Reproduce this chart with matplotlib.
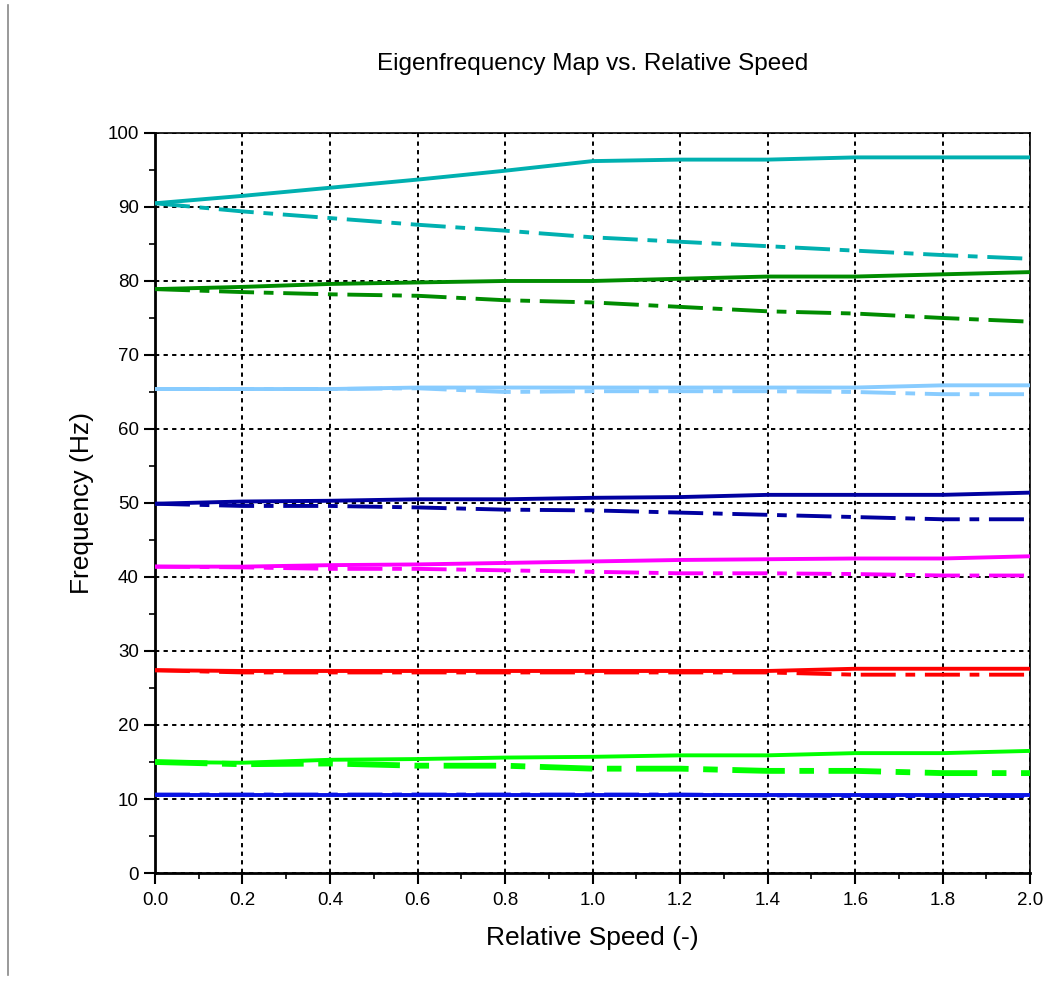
import numpy as np
import matplotlib
matplotlib.use("Agg")
import matplotlib.pyplot as plt
from matplotlib.lines import Line2D
from matplotlib.ticker import MultipleLocator

plt.rcParams['font.family'] = ['Liberation Sans', 'DejaVu Sans']

speed = [0.0, 0.2, 0.4, 0.6, 0.8, 1.0, 1.2, 1.4, 1.6, 1.8, 2.0]

# forward (solid) and backward (dash-dot) whirl branches
mode1_fw = [10.6, 10.6, 10.6, 10.6, 10.6, 10.6, 10.6, 10.6, 10.6, 10.6, 10.6]
mode1_bw = [10.6, 10.6, 10.6, 10.6, 10.6, 10.6, 10.6, 10.5, 10.4, 10.4, 10.4]
mode2_fw = [15.0, 14.9, 15.3, 15.4, 15.6, 15.7, 15.9, 15.9, 16.2, 16.2, 16.5]
mode2_bw = [15.0, 14.7, 14.8, 14.5, 14.5, 14.1, 14.1, 13.8, 13.8, 13.5, 13.5]
mode3_fw = [27.4, 27.3, 27.3, 27.3, 27.3, 27.3, 27.3, 27.3, 27.6, 27.6, 27.6]
mode3_bw = [27.4, 27.1, 27.1, 27.1, 27.1, 27.1, 27.1, 27.1, 26.8, 26.8, 26.8]
mode4_fw = [41.4, 41.4, 41.6, 41.7, 41.9, 42.1, 42.3, 42.4, 42.5, 42.5, 42.8]
mode4_bw = [41.4, 41.3, 41.1, 41.1, 40.9, 40.7, 40.5, 40.5, 40.4, 40.2, 40.2]
mode5_fw = [49.9, 50.2, 50.3, 50.5, 50.5, 50.7, 50.8, 51.1, 51.1, 51.1, 51.4]
mode5_bw = [49.9, 49.6, 49.6, 49.4, 49.1, 49.0, 48.7, 48.4, 48.1, 47.8, 47.8]
mode6_fw = [65.4, 65.4, 65.4, 65.6, 65.6, 65.6, 65.6, 65.6, 65.6, 65.9, 65.9]
mode6_bw = [65.4, 65.4, 65.4, 65.5, 65.0, 65.1, 65.1, 65.1, 65.0, 64.7, 64.7]
mode7_fw = [78.9, 79.2, 79.6, 79.8, 80.0, 80.0, 80.3, 80.6, 80.6, 80.9, 81.2]
mode7_bw = [78.9, 78.5, 78.2, 78.0, 77.4, 77.1, 76.5, 75.9, 75.6, 75.0, 74.5]
mode8_fw = [90.5, 91.5, 92.6, 93.7, 94.9, 96.2, 96.4, 96.4, 96.7, 96.7, 96.7]
mode8_bw = [90.5, 89.4, 88.5, 87.6, 86.8, 85.9, 85.3, 84.7, 84.1, 83.5, 83.0]

modes = [
    (mode1_fw, mode1_bw, '#0a14e6', 2.8),
    (mode2_fw, mode2_bw, '#00ff00', 4.2),
    (mode3_fw, mode3_bw, '#ff0000', 2.8),
    (mode4_fw, mode4_bw, '#ff00ff', 2.8),
    (mode5_fw, mode5_bw, '#0000a0', 2.8),
    (mode6_fw, mode6_bw, '#88ccff', 2.8),
    (mode7_fw, mode7_bw, '#008c00', 2.8),
    (mode8_fw, mode8_bw, '#00b0b0', 2.8),
]

fig = plt.figure(figsize=(10.47, 9.85), dpi=100)
ax = fig.add_axes([0.148, 0.1137, 0.836, 0.7513])

for fw, bw, col, lw in modes:
    ax.plot(speed, bw, color=col, lw=lw, dashes=(9, 2.5, 2.5, 2.5), zorder=3)
    ax.plot(speed, fw, color=col, lw=2.8, zorder=4)

ax.set_xlim(0, 2)
ax.set_ylim(0, 100)
ax.xaxis.set_major_locator(MultipleLocator(0.2))
ax.xaxis.set_minor_locator(MultipleLocator(0.1))
ax.yaxis.set_major_locator(MultipleLocator(10))
ax.yaxis.set_minor_locator(MultipleLocator(5))
ax.xaxis.set_major_formatter(matplotlib.ticker.FormatStrFormatter('%.1f'))

ax.grid(True, which='major', color='black', lw=1.4, linestyle=(0, (2.2, 2.2)), zorder=1)
ax.tick_params(which='major', direction='out', length=8, width=1.5, labelsize=13.5, colors='black')
ax.tick_params(which='minor', direction='out', length=4, width=1.2)
ax.tick_params(axis='x', pad=6)

for side in ['left', 'bottom']:
    ax.spines[side].set_linewidth(2.0)
for side in ['top', 'right']:
    ax.spines[side].set_linewidth(1.2)

ax.set_title('Eigenfrequency Map vs. Relative Speed', fontsize=17.5, pad=45)
ax.set_xlabel('Relative Speed (-)', fontsize=19, labelpad=12)
ax.set_ylabel('Frequency (Hz)', fontsize=19, labelpad=10)

fig.add_artist(Line2D([0.008, 0.008], [0.01, 0.995], color='#888888', lw=1.2))

fig.savefig('out.png', dpi=100)
